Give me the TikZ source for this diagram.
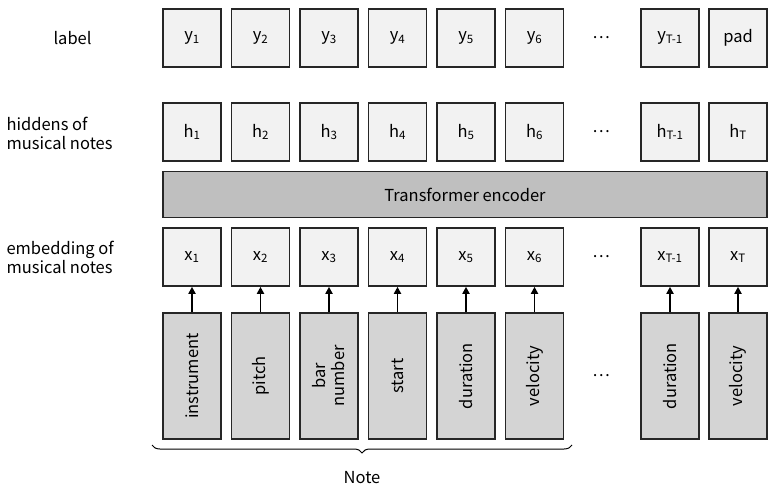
\documentclass[tikz,border=0pt]{standalone}
\usepackage{fontspec}
\setmainfont{Noto Sans CJK JP}
\usetikzlibrary{decorations.pathreplacing,arrows.meta}
\newcommand{\mysub}[1]{\textsubscript{#1}}
\begin{document}
\begin{tikzpicture}[x=1pt,y=-1pt,
  fnt/.style={font=\fontsize{16.5}{19}\selectfont},
  cell/.style={fnt,draw=black!85,line width=1.6pt,fill=black!5,minimum width=58pt,minimum height=58pt,inner sep=0pt},
  feat/.style={draw=black!85,line width=1.6pt,fill=black!17,minimum width=58pt,minimum height=126pt,inner sep=0pt},
  lab/.style={fnt,align=left,anchor=west},
  arr/.style={-{Triangle[length=7pt,width=7pt]},line width=1.8pt}]
\useasboundingbox (0,0) rectangle (775,494);
\def\cols{1/192,2/260.5,3/329,4/397.5,5/466,6/534.5}
\foreach \i/\x in \cols {
  \node[cell] (y\i) at (\x,38) {y\mysub{\i}};
  \node[cell] (h\i) at (\x,132) {h\mysub{\i}};
  \node[cell] (x\i) at (\x,257) {x\mysub{\i}};
}
\node[cell] (y7) at (670,38) {y\mysub{T-1}};
\node[cell] (y8) at (738,38) {pad};
\node[cell] (h7) at (670,132) {h\mysub{T-1}};
\node[cell] (h8) at (738,132) {h\mysub{T}};
\node[cell] (x7) at (670,257) {x\mysub{T-1}};
\node[cell] (x8) at (738,257) {x\mysub{T}};
\node[fnt,draw=black!85,line width=1.6pt,fill=black!25,minimum width=604pt,minimum height=46pt] (enc) at (465,194.5) {Transformer encoder};
\foreach \i/\x/\t in {1/192/instrument,2/260.5/pitch,4/397.5/start,5/466/duration,6/534.5/velocity,7/670/duration,8/738/velocity}{
  \node[feat] (f\i) at (\x,376) {};
  \node[fnt,rotate=90] at (f\i) {\t};
  \draw[arr] (f\i.north) -- (x\i.south);
}
\node[feat] (f3) at (329,376) {};
\node[fnt,rotate=90,align=center] at (f3) {bar\\number};
\draw[arr] (f3.north) -- (x3.south);
\foreach \y/\n in {38/d1,132/d2,257/d3,376/d4} \node[fnt] (\n) at (601,\y) {…};
\node[lab] (l1) at (50,38) {label};
\node[lab] (l2) at (3,133) {hiddens of\\musical notes};
\node[lab] (l3) at (3,257) {embedding of\\musical notes};
\coordinate (b1) at (152,445);
\coordinate (b2) at (572,445);
\draw[line width=1pt,decorate,decoration={brace,mirror,amplitude=8pt}] (b1) -- (b2);
\node[fnt] (note) at (362,478) {Note};
\end{tikzpicture}
\end{document}
